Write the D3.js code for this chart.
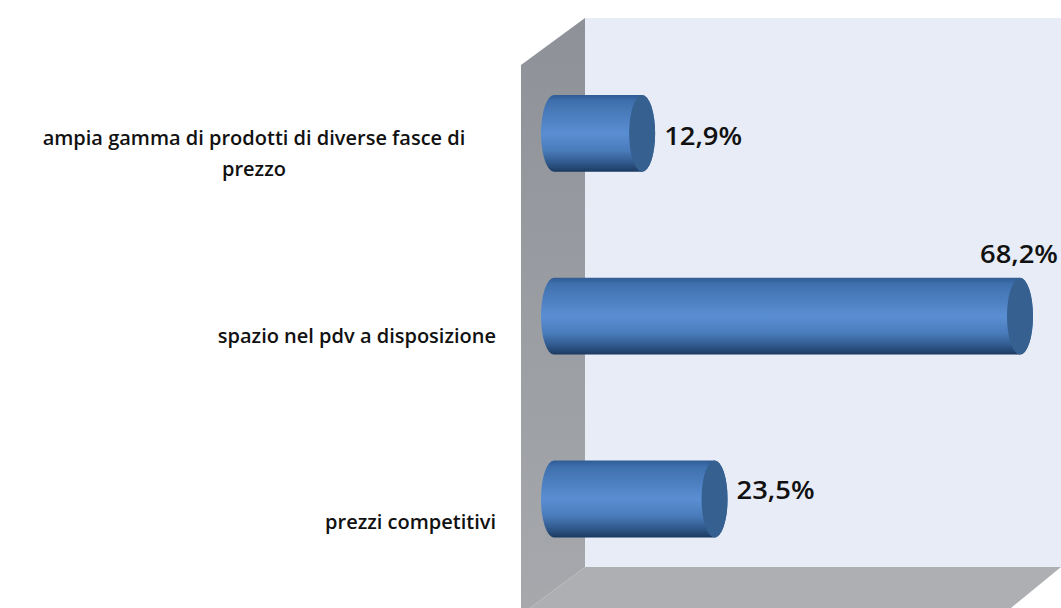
<!DOCTYPE html>
<html>
<head>
<meta charset="utf-8">
<script src="https://cdn.jsdelivr.net/npm/d3@7"></script>
<style>
  html, body { margin: 0; padding: 0; background: #fff; overflow: hidden; }
  svg { display: block; }
  text { font-family: "Open Sans", "Noto Sans", sans-serif; fill: #111; }
</style>
</head>
<body>
<div id="chart"></div>
<script>
// data
const categories = ["ampia gamma di prodotti di diverse fasce di prezzo", "spazio nel pdv a disposizione", "prezzi competitivi"]
const categoryLines = [["ampia gamma di prodotti di diverse fasce di", "prezzo"], ["spazio nel pdv a disposizione"], ["prezzi competitivi"]]
const values = [12.9, 68.2, 23.5]
const valueLabels = ["12,9%", "68,2%", "23,5%"]

function drawChart() {
  // 1. dimensions
  const dimensions = { width: 1061, height: 608 }
  const wall = { left: 521, back: 585, top: 18, topFront: 65, floor: 567, right: 1061, floorRight: 1011, floorLeft: 530 }
  const capRx = 13

  // 2. canvas
  const wrapper = d3.select("#chart").append("svg")
    .attr("width", dimensions.width)
    .attr("height", dimensions.height)
  const defs = wrapper.append("defs")

  const barGradient = defs.append("linearGradient")
    .attr("id", "barGradient")
    .attr("x1", 0).attr("y1", 0).attr("x2", 0).attr("y2", 1)
  const stops = [[0, "#2f5c94"], [0.08, "#3f70ad"], [0.5, "#5a8ed3"], [0.72, "#4a7cbb"], [0.9, "#2d5586"], [1, "#1c3a60"]]
  barGradient.selectAll("stop").data(stops).enter().append("stop")
    .attr("offset", d => d[0])
    .attr("stop-color", d => d[1])

  const leftGradient = defs.append("linearGradient")
    .attr("id", "leftWall")
    .attr("x1", 0).attr("y1", 0).attr("x2", 0).attr("y2", 1)
  leftGradient.append("stop").attr("offset", 0).attr("stop-color", "#8e9298")
  leftGradient.append("stop").attr("offset", 1).attr("stop-color", "#a6a8ac")

  const softEdge = defs.append("filter").attr("id", "soft")
  softEdge.append("feGaussianBlur").attr("stdDeviation", 0.5)

  // 3. scales
  const xScale = d3.scaleLinear()
    .domain([0, 68.2])
    .range([554, 1020])

  const yScale = d3.scaleBand()
    .domain(categories)
    .range([42, 590.4])
    .paddingInner(0.58)
    .paddingOuter(0.29)

  // 4. walls
  const room = wrapper.append("g").attr("filter", "url(#soft)")
  room.append("polygon")
    .attr("points", [[wall.back, wall.top], [wall.right, wall.top], [wall.right, wall.floor], [wall.back, wall.floor]].join(" "))
    .attr("fill", "#e8ecf6")
  room.append("polygon")
    .attr("points", [[wall.back, wall.floor], [wall.right, wall.floor], [wall.floorRight, dimensions.height], [wall.floorLeft, dimensions.height]].join(" "))
    .attr("fill", "#adafb2")
  room.append("polygon")
    .attr("points", [[wall.left, wall.topFront], [wall.back, wall.top], [wall.back, wall.floor], [wall.floorLeft, dimensions.height], [wall.left, dimensions.height]].join(" "))
    .attr("fill", "url(#leftWall)")

  // 5. cylinders
  const bars = wrapper.append("g").attr("filter", "url(#soft)")
    .selectAll("g")
    .data(categories)
    .enter().append("g")

  bars.append("path")
    .attr("d", (c, i) => {
      const y0 = yScale(c), h = yScale.bandwidth(), ry = h / 2
      const x0 = xScale(0), x1 = xScale(values[i])
      return `M${x0},${y0} L${x1},${y0} A${capRx},${ry} 0 0 1 ${x1},${y0 + h} L${x0},${y0 + h} A${capRx},${ry} 0 0 1 ${x0},${y0} Z`
    })
    .attr("fill", "url(#barGradient)")

  bars.append("ellipse")
    .attr("cx", (c, i) => xScale(values[i]))
    .attr("cy", c => yScale(c) + yScale.bandwidth() / 2)
    .attr("rx", capRx)
    .attr("ry", yScale.bandwidth() / 2)
    .attr("fill", "#34608f")

  // 6. value labels, the long bar has its label moved above the cap
  wrapper.append("g")
    .selectAll("text")
    .data(valueLabels)
    .enter().append("text")
    .attr("x", (d, i) => i === 1 ? 1058 : xScale(values[i]) + capRx + 9)
    .attr("y", (d, i) => yScale(categories[i]) + yScale.bandwidth() / 2 + [11.5, -53, 0][i])
    .attr("text-anchor", (d, i) => i === 1 ? "end" : "start")
    .attr("font-size", 26)
    .attr("font-weight", 600)
    .attr("textLength", 78)
    .attr("lengthAdjust", "spacingAndGlyphs")
    .text(d => d)

  // 7. category labels
  const labelGroups = wrapper.append("g")
    .selectAll("text")
    .data(categoryLines)
    .enter().append("text")
    .attr("font-size", 20)
    .attr("font-weight", 600)
    .attr("text-anchor", (d, i) => i === 0 ? "middle" : "end")

  labelGroups.selectAll("tspan")
    .data((d, i) => d.map((line, j) => ({ line, j, i })))
    .enter().append("tspan")
    .attr("x", d => d.i === 0 ? 254 : 496)
    .attr("y", d => yScale(categories[d.i]) + yScale.bandwidth() / 2 + [12, 27, 30][d.i] + d.j * 31)
    .text(d => d.line)
}

drawChart()
</script>
</body>
</html>
